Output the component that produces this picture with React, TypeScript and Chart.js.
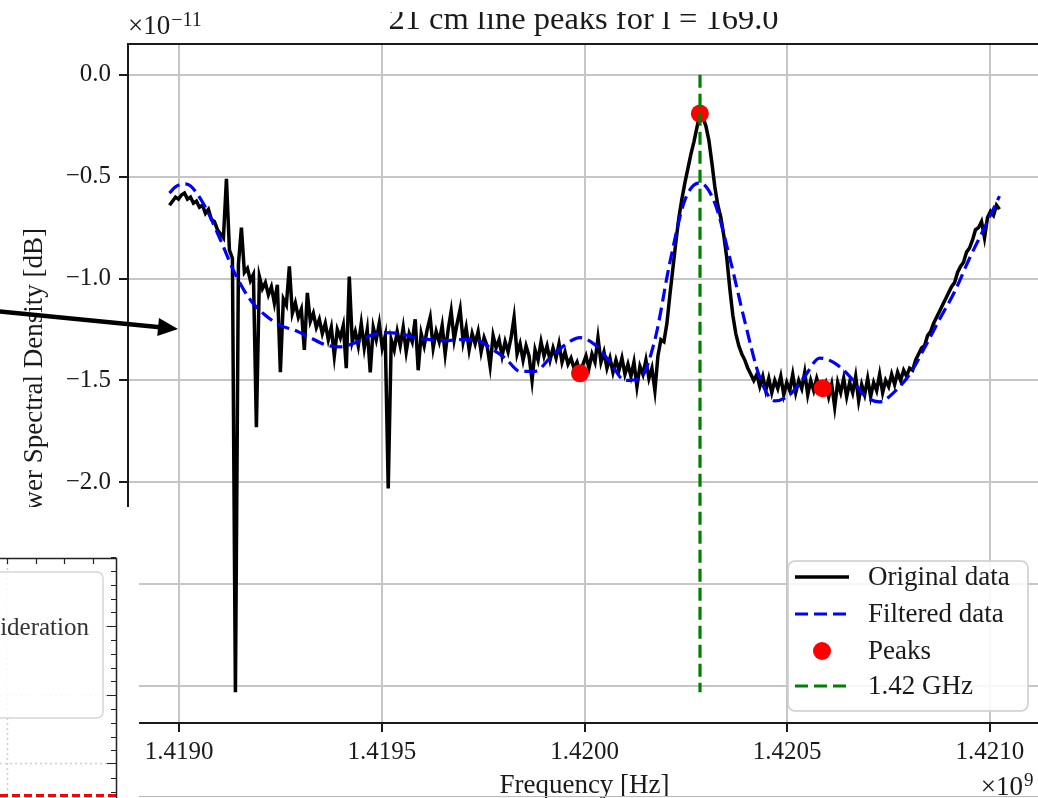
import React, { useEffect, useRef } from "react";
import { Chart, registerables } from "chart.js";

Chart.register(...registerables);

// Frequency axis (units of 1e9 Hz): 278 channels across 2.048 MHz centred on 1.42 GHz
const FREQ_START = 1.418976;
const FREQ_END = 1.421024;
const CHANNELS = 278;

// Measured power spectral density per channel (units of 1e-11)
const originalPower = [
  -0.64, -0.62, -0.60, -0.61, -0.59, -0.58, -0.61, -0.60, -0.63, -0.62,
  -0.65, -0.64, -0.68, -0.66, -0.71, -0.72, -0.76, -0.78, -0.80, -0.51,
  -0.86, -0.90, -3.03, -0.93, -0.75, -0.97, -0.95, -1.01, -0.98, -1.73,
  -0.99, -1.05, -1.02, -1.08, -1.04, -1.12, -1.03, -1.46, -1.10, -1.13,
  -0.94, -1.17, -1.12, -1.19, -1.15, -1.35, -1.07, -1.21, -1.17, -1.24,
  -1.20, -1.27, -1.22, -1.30, -1.24, -1.38, -1.25, -1.29, -1.23, -1.44,
  -0.99, -1.31, -1.26, -1.33, -1.22, -1.34, -1.25, -1.46, -1.24, -1.30,
  -1.22, -1.34, -1.28, -2.03, -1.30, -1.35, -1.26, -1.33, -1.24, -1.36,
  -1.27, -1.31, -1.20, -1.45, -1.27, -1.33, -1.25, -1.19, -1.34, -1.26,
  -1.31, -1.23, -1.37, -1.25, -1.16, -1.30, -1.22, -1.15, -1.31, -1.24,
  -1.35, -1.27, -1.32, -1.26, -1.36, -1.29, -1.33, -1.43, -1.28, -1.34,
  -1.30, -1.38, -1.31, -1.36, -1.29, -1.19, -1.37, -1.32, -1.40, -1.33,
  -1.38, -1.50, -1.35, -1.40, -1.31, -1.38, -1.33, -1.40, -1.34, -1.39,
  -1.32, -1.41, -1.36, -1.42, -1.39, -1.44, -1.41, -1.465, -1.42, -1.38,
  -1.44, -1.37, -1.41, -1.29, -1.41, -1.36, -1.44, -1.39, -1.46, -1.40,
  -1.45, -1.39, -1.47, -1.42, -1.48, -1.41, -1.53, -1.43, -1.47, -1.40,
  -1.49, -1.44, -1.55, -1.38, -1.30, -1.31, -1.22, -1.08, -0.95, -0.82,
  -0.70, -0.61, -0.53, -0.46, -0.39, -0.33, -0.26, -0.19, -0.21, -0.25,
  -0.32, -0.43, -0.55, -0.64, -0.70, -0.79, -0.90, -1.05, -1.18, -1.27,
  -1.33, -1.37, -1.40, -1.44, -1.47, -1.50, -1.47, -1.53, -1.48, -1.55,
  -1.49, -1.56, -1.50, -1.54, -1.48, -1.57, -1.51, -1.55, -1.47, -1.56,
  -1.50, -1.54, -1.46, -1.57, -1.50, -1.55, -1.49, -1.54, -1.538, -1.51,
  -1.58, -1.52, -1.63, -1.51, -1.56, -1.49, -1.58, -1.51, -1.56, -1.48,
  -1.60, -1.52, -1.57, -1.49, -1.58, -1.51, -1.55, -1.47, -1.56, -1.50,
  -1.53, -1.47, -1.52, -1.46, -1.50, -1.45, -1.48, -1.44, -1.45, -1.40,
  -1.37, -1.34, -1.33, -1.28, -1.26, -1.22, -1.19, -1.16, -1.13, -1.10,
  -1.07, -1.04, -1.02, -0.97, -0.94, -0.92, -0.87, -0.85, -0.81, -0.76,
  -0.75, -0.72, -0.80, -0.70, -0.67, -0.69, -0.64, -0.66,
];

// Filtered spectrum, sampled at these channels
const filteredChannels = [
  0, 2, 5, 7, 12, 17, 22, 27, 32, 37, 42, 47, 52, 57, 62, 67, 72, 77, 82, 87,
  92, 97, 102, 107, 112, 117, 122, 127, 132, 137, 142, 147, 152, 157, 162, 167,
  172, 177, 182, 187, 192, 197, 202, 207, 212, 217, 222, 227, 232, 237, 242,
  247, 252, 257, 262, 267, 272, 277,
];
const filteredPower = [
  -0.58, -0.55, -0.535, -0.545, -0.65, -0.81, -0.98, -1.105, -1.18, -1.23,
  -1.255, -1.29, -1.325, -1.335, -1.315, -1.28, -1.265, -1.27, -1.29, -1.30,
  -1.305, -1.30, -1.30, -1.34, -1.39, -1.455, -1.455, -1.39, -1.325, -1.29,
  -1.325, -1.41, -1.50, -1.49, -1.30, -0.92, -0.615, -0.53, -0.63, -0.90,
  -1.21, -1.485, -1.60, -1.57, -1.48, -1.39, -1.415, -1.48, -1.575, -1.605,
  -1.555, -1.47, -1.34, -1.20, -1.065, -0.90, -0.75, -0.595,
];

// Channels flagged as peaks
const peakChannels = [137, 177, 218];

// Reference line position (units of 1e9 Hz)
const REF_LINE_FREQ = 1.420285;

const X_TICKS = [1.419, 1.4195, 1.42, 1.4205, 1.421];
const Y_TICKS = [-3.0, -2.5, -2.0, -1.5, -1.0, -0.5, 0.0];
const X_RANGE = [1.4188736, 1.4211264];
const Y_RANGE = [-3.1815, 0.1515];

const TITLE = "21 cm line peaks for l = 169.0";
const X_LABEL = "Frequency [Hz]";
const Y_LABEL = "Power Spectral Density [dB]";

const INK = "#1a1a1a";
const SERIF = '"Liberation Serif", "Times New Roman", serif';
const DASH = [13, 6];

const freqOf = (ch: number) =>
  FREQ_START + (ch * (FREQ_END - FREQ_START)) / (CHANNELS - 1);

function drawOverlayPanel(ctx: CanvasRenderingContext2D) {
  // Neighbouring figure poking in at the lower left
  ctx.save();
  ctx.fillStyle = "#ffffff";
  ctx.fillRect(0, 507, 139, 291);

  const spineX = 116;
  const spineTop = 558;

  // dotted grid
  ctx.strokeStyle = "#cfcfcf";
  ctx.lineWidth = 1.5;
  ctx.setLineDash([2, 3]);
  [626, 695, 763].forEach((y) => {
    ctx.beginPath();
    ctx.moveTo(0, y + 0.5);
    ctx.lineTo(spineX, y + 0.5);
    ctx.stroke();
  });
  ctx.beginPath();
  ctx.moveTo(7.5, spineTop);
  ctx.lineTo(7.5, 798);
  ctx.stroke();
  ctx.setLineDash([]);

  // legend frame with cut-off entry
  ctx.beginPath();
  ctx.roundRect(-14, 572, 117, 146, 6);
  ctx.fillStyle = "rgba(255,255,255,0.85)";
  ctx.fill();
  ctx.strokeStyle = "#d6d6d6";
  ctx.lineWidth = 1.5;
  ctx.stroke();
  ctx.fillStyle = "#333";
  ctx.font = `25px ${SERIF}`;
  ctx.textAlign = "right";
  ctx.textBaseline = "middle";
  ctx.fillText("consideration", 89, 628);

  // red dashed series at the bottom
  ctx.strokeStyle = "#ff0000";
  ctx.lineWidth = 3;
  ctx.setLineDash([8, 4]);
  ctx.beginPath();
  ctx.moveTo(0, 795.5);
  ctx.lineTo(spineX, 795.5);
  ctx.stroke();
  ctx.setLineDash([]);

  // spines
  ctx.strokeStyle = "#222";
  ctx.lineWidth = 1.5;
  ctx.beginPath();
  ctx.moveTo(0, spineTop + 0.5);
  ctx.lineTo(spineX + 0.5, spineTop + 0.5);
  ctx.lineTo(spineX + 0.5, 798);
  ctx.stroke();

  // inward ticks
  ctx.lineWidth = 1.2;
  ctx.beginPath();
  [7, 36, 64, 93].forEach((x) => {
    ctx.moveTo(x + 0.5, spineTop);
    ctx.lineTo(x + 0.5, spineTop + 6);
  });
  const majors = [626, 695, 763];
  majors.forEach((y) => {
    ctx.moveTo(spineX, y + 0.5);
    ctx.lineTo(spineX - 9, y + 0.5);
  });
  for (let y = 557.2; y < 798; y += 13.8) {
    if (majors.some((m) => Math.abs(m - y) < 4)) continue;
    ctx.moveTo(spineX, Math.round(y) + 0.5);
    ctx.lineTo(spineX - 5, Math.round(y) + 0.5);
  }
  ctx.stroke();
  ctx.restore();
}

function drawArrow(ctx: CanvasRenderingContext2D) {
  const tail = { x: -6, y: 311 };
  const tip = { x: 178, y: 329 };
  const dx = tip.x - tail.x;
  const dy = tip.y - tail.y;
  const len = Math.hypot(dx, dy);
  const ux = dx / len;
  const uy = dy / len;
  const headLen = 20;
  const headHalf = 9;
  const bx = tip.x - ux * headLen;
  const by = tip.y - uy * headLen;
  ctx.save();
  ctx.strokeStyle = "#000";
  ctx.fillStyle = "#000";
  ctx.lineWidth = 4.5;
  ctx.beginPath();
  ctx.moveTo(tail.x, tail.y);
  ctx.lineTo(bx + ux * 2, by + uy * 2);
  ctx.stroke();
  ctx.beginPath();
  ctx.moveTo(tip.x, tip.y);
  ctx.lineTo(bx - uy * headHalf, by + ux * headHalf);
  ctx.lineTo(bx + uy * headHalf, by - ux * headHalf);
  ctx.closePath();
  ctx.fill();
  ctx.restore();
}

const decorPlugin = {
  id: "decor",
  afterDraw(chart: any) {
    const ctx: CanvasRenderingContext2D = chart.ctx;
    const { left, right, top, bottom } = chart.chartArea;
    const midX = (left + right) / 2;
    ctx.save();

    // top spine
    ctx.strokeStyle = INK;
    ctx.lineWidth = 2;
    ctx.beginPath();
    ctx.moveTo(left, top);
    ctx.lineTo(right, top);
    ctx.stroke();

    ctx.fillStyle = INK;
    ctx.textBaseline = "alphabetic";

    // title
    ctx.font = `32.5px ${SERIF}`;
    ctx.textAlign = "center";
    ctx.fillText(TITLE, midX - 1, 29);
    ctx.fillStyle = "#ffffff";
    ctx.fillRect(0, 0, chart.width, 12);
    ctx.fillStyle = INK;

    // y offset text
    ctx.textAlign = "left";
    ctx.font = `27px ${SERIF}`;
    ctx.fillText("×10", left, 34);
    const wY = ctx.measureText("×10").width;
    ctx.font = `20px ${SERIF}`;
    ctx.fillText("−11", left + wY + 1, 26);

    // x label
    ctx.font = `27px ${SERIF}`;
    ctx.textAlign = "center";
    ctx.fillText(X_LABEL, midX, 793);

    // x offset text
    ctx.font = `19px ${SERIF}`;
    ctx.textAlign = "left";
    ctx.fillText("9", 1024, 786);
    ctx.font = `27px ${SERIF}`;
    ctx.textAlign = "right";
    ctx.fillText("×10", 1023, 795);

    // y label
    ctx.save();
    ctx.translate(42, (top + bottom) / 2);
    ctx.rotate(-Math.PI / 2);
    ctx.font = `27px ${SERIF}`;
    ctx.textAlign = "center";
    ctx.fillText(Y_LABEL, 0, 0);
    ctx.restore();

    // legend
    const lx = 788;
    const ly = 561;
    ctx.beginPath();
    ctx.roundRect(lx, ly, 240, 150, 7);
    ctx.fillStyle = "rgba(255,255,255,0.85)";
    ctx.fill();
    ctx.strokeStyle = "#cccccc";
    ctx.lineWidth = 1.5;
    ctx.stroke();
    const rows = [577, 614, 651, 686];
    const ds = chart.data.datasets;
    ds.forEach((d: any, k: number) => {
      const y = rows[k];
      if (d.showLine === false) {
        ctx.beginPath();
        ctx.arc(822, y, d.pointRadius, 0, Math.PI * 2);
        ctx.fillStyle = d.pointBackgroundColor;
        ctx.fill();
      } else {
        ctx.beginPath();
        ctx.setLineDash(d.borderDash || []);
        ctx.strokeStyle = d.borderColor;
        ctx.lineWidth = d.borderWidth;
        ctx.moveTo(795, y);
        ctx.lineTo(849, y);
        ctx.stroke();
        ctx.setLineDash([]);
      }
      ctx.fillStyle = INK;
      ctx.font = `27px ${SERIF}`;
      ctx.textAlign = "left";
      ctx.textBaseline = "middle";
      ctx.fillText(d.label, 868, y + 1);
    });

    // page rule along the bottom
    ctx.strokeStyle = "#bbbbbb";
    ctx.lineWidth = 1;
    ctx.beginPath();
    ctx.moveTo(139, 796.5);
    ctx.lineTo(chart.width, 796.5);
    ctx.stroke();
    ctx.restore();

    drawOverlayPanel(ctx);
    drawArrow(ctx);
  },
};

export default function App() {
  const canvasRef = useRef<HTMLCanvasElement | null>(null);

  useEffect(() => {
    const canvas = canvasRef.current;
    if (!canvas) return;

    const channelIdx = originalPower.map((_, i) => i);
    const lowest = Math.min(...originalPower);

    const gridBase = {
      color: "#c6c6c6",
      lineWidth: 2,
      tickLength: 9,
      tickColor: INK,
      tickWidth: 2,
    };
    const tickFont = { family: SERIF, size: 25 };

    const chart = new Chart(canvas, {
      type: "line",
      data: {
        datasets: [
          {
            label: "Original data",
            data: channelIdx.map((i) => ({ x: freqOf(i), y: originalPower[i] })),
            borderColor: "#000000",
            borderWidth: 3.5,
            pointRadius: 0,
            tension: 0,
            order: 3,
          },
          {
            label: "Filtered data",
            data: filteredChannels.map((c, k) => ({ x: freqOf(c), y: filteredPower[k] })),
            borderColor: "#0000ff",
            borderWidth: 3.2,
            borderDash: DASH,
            pointRadius: 0,
            cubicInterpolationMode: "monotone",
            order: 2,
          },
          {
            label: "Peaks",
            data: peakChannels.map((c) => ({ x: freqOf(c), y: originalPower[c] })),
            showLine: false,
            pointRadius: 9,
            pointBackgroundColor: "#ff0000",
            pointBorderColor: "#ff0000",
            pointBorderWidth: 0,
            borderColor: "#ff0000",
            order: 1,
          },
          {
            label: "1.42 GHz",
            data: [
              { x: REF_LINE_FREQ, y: 0 },
              { x: REF_LINE_FREQ, y: lowest },
            ],
            borderColor: "#008000",
            borderWidth: 3.2,
            borderDash: DASH,
            pointRadius: 0,
            order: 0,
          },
        ] as any,
      },
      options: {
        responsive: false,
        animation: false,
        events: [],
        layout: {
          autoPadding: false,
          padding: { top: 44, left: 0, right: 0, bottom: 0 },
        },
        plugins: {
          legend: { display: false },
          tooltip: { enabled: false },
          title: { display: false },
        },
        scales: {
          x: {
            type: "linear",
            min: X_RANGE[0],
            max: X_RANGE[1],
            afterBuildTicks: (axis: any) => {
              axis.ticks = X_TICKS.map((v) => ({ value: v }));
            },
            afterFit: (axis: any) => {
              axis.height = 75;
              axis.paddingLeft = 0;
              axis.paddingRight = 0;
            },
            ticks: {
              autoSkip: false,
              maxRotation: 0,
              minRotation: 0,
              padding: 5,
              color: INK,
              font: tickFont,
              callback: (v: any) => Number(v).toFixed(4),
            },
            grid: gridBase,
            border: { display: true, color: INK, width: 2 },
          },
          y: {
            type: "linear",
            min: Y_RANGE[0],
            max: Y_RANGE[1],
            afterBuildTicks: (axis: any) => {
              axis.ticks = Y_TICKS.map((v) => ({ value: v }));
            },
            afterFit: (axis: any) => {
              axis.width = 128;
              axis.paddingTop = 0;
              axis.paddingBottom = 0;
            },
            ticks: {
              padding: 8,
              color: INK,
              font: tickFont,
              callback: (v: any) => {
                const n = Number(v);
                return (n < 0 ? "−" : "") + Math.abs(n).toFixed(1);
              },
            },
            grid: gridBase,
            border: { display: true, color: INK, width: 2 },
          },
        },
      } as any,
      plugins: [decorPlugin],
    });

    let live = true;
    if ((document as any).fonts?.ready) {
      (document as any).fonts.ready.then(() => {
        if (live) chart.update();
      });
    }

    return () => {
      live = false;
      chart.destroy();
    };
  }, []);

  return (
    <div
      style={{
        position: "fixed",
        left: 0,
        top: 0,
        width: 1038,
        height: 798,
        overflow: "hidden",
        background: "#ffffff",
      }}
    >
      <canvas
        ref={canvasRef}
        width={1041}
        height={798}
        style={{ display: "block", width: 1041, height: 798 }}
      />
    </div>
  );
}
